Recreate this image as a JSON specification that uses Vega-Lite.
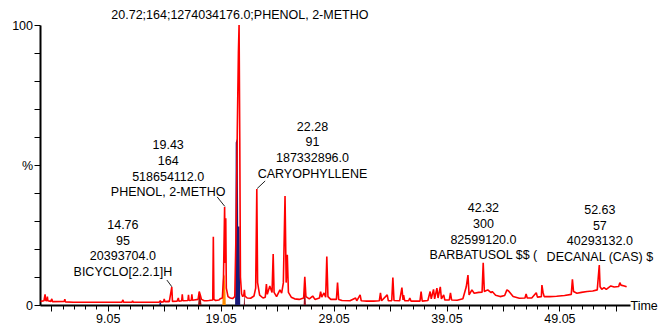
{
  "$schema": "https://vega.github.io/schema/vega-lite/v6.json",
  "autosize": "none",
  "padding": {"left": 40, "top": 25, "right": 29, "bottom": 20},
  "width": 590,
  "height": 280,
  "background": "white",
  "config": {"view": {"stroke": null}, "font": "Liberation Sans"},
  "datasets": {
    "chrom": [
      {"t": 3.1, "v": 1.3}, {"t": 3.4, "v": 1.5}, {"t": 3.5, "v": 3.8}, {"t": 3.55, "v": 1.6}, {"t": 3.65, "v": 1.5}, {"t": 3.7, "v": 3.0}, {"t": 3.75, "v": 1.5},
      {"t": 4.0, "v": 1.3}, {"t": 4.1, "v": 2.2}, {"t": 4.15, "v": 1.2}, {"t": 5.2, "v": 1.3}, {"t": 5.25, "v": 2.1}, {"t": 5.3, "v": 1.1},
      {"t": 6.0, "v": 1.0}, {"t": 8.0, "v": 1.0}, {"t": 10.3, "v": 1.0}, {"t": 10.4, "v": 1.8}, {"t": 10.45, "v": 1.0}, {"t": 11.2, "v": 1.0}, {"t": 11.25, "v": 1.5}, {"t": 11.3, "v": 1.0},
      {"t": 13.6, "v": 1.0}, {"t": 13.7, "v": 1.5}, {"t": 13.8, "v": 1.0}, {"t": 14.0, "v": 1.2}, {"t": 14.05, "v": 2.2}, {"t": 14.1, "v": 1.2}, {"t": 14.4, "v": 1.3}, {"t": 14.5, "v": 1.2},
      {"t": 14.72, "v": 6.4}, {"t": 14.78, "v": 1.3}, {"t": 15.2, "v": 1.4}, {"t": 15.3, "v": 2.5}, {"t": 15.35, "v": 1.4}, {"t": 15.6, "v": 1.5}, {"t": 15.65, "v": 3.8}, {"t": 15.7, "v": 1.5},
      {"t": 16.15, "v": 1.6}, {"t": 16.2, "v": 3.6}, {"t": 16.25, "v": 1.6}, {"t": 16.45, "v": 1.7}, {"t": 16.5, "v": 3.8}, {"t": 16.55, "v": 1.7}, {"t": 16.7, "v": 1.8},
      {"t": 17.05, "v": 2.0}, {"t": 17.15, "v": 4.8}, {"t": 17.25, "v": 3.5}, {"t": 17.35, "v": 2.0}, {"t": 17.6, "v": 1.5}, {"t": 17.8, "v": 1.5}, {"t": 18.0, "v": 1.6},
      {"t": 18.35, "v": 1.8}, {"t": 18.4, "v": 24.4}, {"t": 18.45, "v": 2.0}, {"t": 18.6, "v": 1.6}, {"t": 18.9, "v": 1.8}, {"t": 19.0, "v": 2.2}, {"t": 19.2, "v": 2.5},
      {"t": 19.3, "v": 10}, {"t": 19.4, "v": 35.0}, {"t": 19.45, "v": 15}, {"t": 19.5, "v": 31.0}, {"t": 19.55, "v": 6}, {"t": 19.7, "v": 3.0}, {"t": 19.9, "v": 2.5}, {"t": 20.1, "v": 2.3},
      {"t": 20.3, "v": 3.0}, {"t": 20.42, "v": 28}, {"t": 20.52, "v": 62}, {"t": 20.62, "v": 90}, {"t": 20.68, "v": 100}, {"t": 20.74, "v": 60}, {"t": 20.8, "v": 10}, {"t": 20.9, "v": 4},
      {"t": 21.0, "v": 3.0}, {"t": 21.1, "v": 3.5}, {"t": 21.15, "v": 5.4}, {"t": 21.2, "v": 3.2}, {"t": 21.4, "v": 2.5}, {"t": 21.7, "v": 2.4}, {"t": 22.0, "v": 3.2},
      {"t": 22.15, "v": 6.0}, {"t": 22.25, "v": 41.4}, {"t": 22.32, "v": 8.0}, {"t": 22.5, "v": 3.5}, {"t": 22.8, "v": 2.5}, {"t": 23.0, "v": 2.8}, {"t": 23.1, "v": 7.5},
      {"t": 23.18, "v": 3.8}, {"t": 23.4, "v": 6.8}, {"t": 23.6, "v": 4.5}, {"t": 23.7, "v": 18.2}, {"t": 23.78, "v": 4.5}, {"t": 24.0, "v": 3.0}, {"t": 24.3, "v": 5.4},
      {"t": 24.45, "v": 4.2}, {"t": 24.6, "v": 7.9}, {"t": 24.75, "v": 38.9}, {"t": 24.85, "v": 8}, {"t": 24.95, "v": 17.9}, {"t": 25.05, "v": 4.5}, {"t": 25.3, "v": 2.8},
      {"t": 25.6, "v": 2.2}, {"t": 26.0, "v": 2.0}, {"t": 26.4, "v": 2.5}, {"t": 26.5, "v": 10.1}, {"t": 26.6, "v": 3.0}, {"t": 26.9, "v": 2.2}, {"t": 27.2, "v": 3.2},
      {"t": 27.4, "v": 2.0}, {"t": 27.8, "v": 2.5}, {"t": 27.9, "v": 4.8}, {"t": 28.0, "v": 2.8}, {"t": 28.2, "v": 4.3}, {"t": 28.35, "v": 2.8}, {"t": 28.45, "v": 17.3},
      {"t": 28.55, "v": 3.0}, {"t": 28.8, "v": 2.0}, {"t": 29.3, "v": 2.0}, {"t": 29.4, "v": 8.0}, {"t": 29.5, "v": 2.0}, {"t": 29.8, "v": 1.6}, {"t": 30.5, "v": 1.5},
      {"t": 31.0, "v": 2.5}, {"t": 31.1, "v": 1.5}, {"t": 31.4, "v": 3.6}, {"t": 31.5, "v": 1.5}, {"t": 32.0, "v": 1.4}, {"t": 32.6, "v": 1.4}, {"t": 33.1, "v": 1.5},
      {"t": 33.2, "v": 4.3}, {"t": 33.3, "v": 1.5}, {"t": 33.8, "v": 3.6}, {"t": 33.9, "v": 1.5}, {"t": 34.2, "v": 1.5}, {"t": 34.3, "v": 9.8}, {"t": 34.4, "v": 1.6},
      {"t": 34.9, "v": 1.5}, {"t": 35.1, "v": 6.2}, {"t": 35.2, "v": 1.8}, {"t": 35.25, "v": 3.5}, {"t": 35.35, "v": 1.5}, {"t": 35.7, "v": 1.5}, {"t": 35.8, "v": 2.5},
      {"t": 35.9, "v": 1.4}, {"t": 36.7, "v": 1.4}, {"t": 36.8, "v": 4.8}, {"t": 36.9, "v": 1.4}, {"t": 37.4, "v": 1.6}, {"t": 37.6, "v": 4.8}, {"t": 37.7, "v": 2.2},
      {"t": 37.9, "v": 5.6}, {"t": 38.0, "v": 2.2}, {"t": 38.2, "v": 6.0}, {"t": 38.3, "v": 2.5}, {"t": 38.5, "v": 6.5}, {"t": 38.6, "v": 2.2}, {"t": 38.8, "v": 3.6},
      {"t": 38.9, "v": 1.8}, {"t": 39.3, "v": 1.8}, {"t": 39.4, "v": 4.3}, {"t": 39.5, "v": 1.8}, {"t": 40.0, "v": 1.7}, {"t": 40.5, "v": 2.2}, {"t": 40.8, "v": 6.5},
      {"t": 40.95, "v": 10.7}, {"t": 41.05, "v": 3.6}, {"t": 41.3, "v": 5.4}, {"t": 41.5, "v": 4.2}, {"t": 41.9, "v": 4.5}, {"t": 42.2, "v": 4.6}, {"t": 42.3, "v": 15.1},
      {"t": 42.4, "v": 4.8}, {"t": 42.7, "v": 5.4}, {"t": 43.0, "v": 4.4}, {"t": 43.1, "v": 4.8}, {"t": 43.4, "v": 3.5}, {"t": 43.8, "v": 3.0}, {"t": 44.2, "v": 3.4},
      {"t": 44.4, "v": 5.4}, {"t": 44.55, "v": 5.0}, {"t": 44.95, "v": 3.0}, {"t": 45.5, "v": 2.4}, {"t": 46.0, "v": 2.5}, {"t": 46.1, "v": 3.9}, {"t": 46.2, "v": 2.5},
      {"t": 46.6, "v": 2.5}, {"t": 47.0, "v": 4.4}, {"t": 47.1, "v": 2.8}, {"t": 47.45, "v": 3.0}, {"t": 47.5, "v": 7.1}, {"t": 47.6, "v": 4.5}, {"t": 47.7, "v": 3.0},
      {"t": 48.2, "v": 3.0}, {"t": 48.8, "v": 3.1}, {"t": 49.5, "v": 3.4}, {"t": 50.1, "v": 3.8}, {"t": 50.2, "v": 9.2}, {"t": 50.3, "v": 4.8}, {"t": 50.6, "v": 4.2},
      {"t": 51.0, "v": 4.5}, {"t": 51.5, "v": 4.8}, {"t": 52.0, "v": 5.0}, {"t": 52.4, "v": 5.4}, {"t": 52.58, "v": 14.3}, {"t": 52.65, "v": 6.5}, {"t": 52.8, "v": 5.6},
      {"t": 53.0, "v": 6.2}, {"t": 53.2, "v": 5.6}, {"t": 53.6, "v": 6.8}, {"t": 53.9, "v": 6.4}, {"t": 54.3, "v": 6.6}, {"t": 54.4, "v": 8.0}, {"t": 54.5, "v": 7.1},
      {"t": 54.8, "v": 6.8}, {"t": 55.0, "v": 6.5}
    ],
    "fills": [
      {"s": "navy", "t": 13.6, "v": 0}, {"s": "navy", "t": 13.7, "v": 1.5}, {"s": "navy", "t": 13.8, "v": 0},
      {"s": "dark", "t": 17.05, "v": 0}, {"s": "dark", "t": 17.15, "v": 4.8}, {"s": "dark", "t": 17.25, "v": 3.5}, {"s": "dark", "t": 17.35, "v": 0},
      {"s": "orange", "t": 19.2, "v": 0}, {"s": "orange", "t": 19.25, "v": 9}, {"s": "orange", "t": 19.4, "v": 11}, {"s": "orange", "t": 19.48, "v": 4}, {"s": "orange", "t": 19.5, "v": 0},
      {"s": "navy2", "t": 20.33, "v": 0}, {"s": "navy2", "t": 20.38, "v": 58}, {"s": "navy2", "t": 20.56, "v": 60}, {"s": "navy2", "t": 20.6, "v": 28}, {"s": "navy2", "t": 20.72, "v": 28}, {"s": "navy2", "t": 20.78, "v": 0},
      {"s": "dark2", "t": 21.1, "v": 0}, {"s": "dark2", "t": 21.15, "v": 5.4}, {"s": "dark2", "t": 21.2, "v": 0},
      {"s": "dark3", "t": 26.4, "v": 0}, {"s": "dark3", "t": 26.5, "v": 10.1}, {"s": "dark3", "t": 26.6, "v": 0}
    ],
    "leaders": [
      {"t": 14.29, "v": 8.9, "t2": 14.73, "v2": 6.5},
      {"t": 18.74, "v": 38.6, "t2": 19.42, "v2": 35.2},
      {"t": 22.28, "v": 41.6, "t2": 22.99, "v2": 44.3}
    ],
    "labels": [
      {"t": 10.39, "v": 28.6, "label": "14.76\n95\n20393704.0\nBICYCLO[2.2.1]H"},
      {"t": 14.4, "v": 57.1, "label": "19.43\n164\n518654112.0\nPHENOL, 2-METHO"},
      {"t": 27.18, "v": 63.7, "label": "22.28\n91\n187332896.0\nCARYOPHYLLENE"},
      {"t": 42.32, "v": 34.6, "label": "42.32\n300\n82599120.0\nBARBATUSOL $$ ("},
      {"t": 52.63, "v": 33.9, "label": "52.63\n57\n40293132.0\nDECANAL (CAS) $"},
      {"t": 20.75, "v": 103.6, "label": "20.72;164;1274034176.0;PHENOL, 2-METHO"}
    ]
  },
  "encoding": {
    "x": {
      "field": "t", "type": "quantitative",
      "scale": {"domain": [3.05, 55.3], "nice": false, "zero": false},
      "axis": {
        "values": [4.05, 5.05, 6.05, 7.05, 8.05, 9.05, 10.05, 11.05, 12.05, 13.05, 14.05, 15.05, 16.05, 17.05, 18.05, 19.05, 20.05, 21.05, 22.05, 23.05, 24.05, 25.05, 26.05, 27.05, 28.05, 29.05, 30.05, 31.05, 32.05, 33.05, 34.05, 35.05, 36.05, 37.05, 38.05, 39.05, 40.05, 41.05, 42.05, 43.05, 44.05, 45.05, 46.05, 47.05, 48.05, 49.05, 50.05, 51.05, 52.05, 53.05, 54.05],
        "tickSize": {"condition": {"test": "abs(datum.value - 4.05 - 5*round((datum.value - 4.05)/5)) < 0.01", "value": 6}, "value": 4},
        "labelExpr": "abs(datum.value - 9.05 - 10*round((datum.value - 9.05)/10)) < 0.01 ? format(datum.value, '.2f') : ''",
        "labelOverlap": false, "labelFlush": false,
        "labelFont": "Liberation Sans", "labelFontSize": 12.5, "labelColor": "black", "labelPadding": 1,
        "domainColor": "black", "domainWidth": 2, "tickColor": "black", "tickWidth": 1, "grid": false,
        "title": "Time", "titleX": 590, "titleY": 0, "titleAlign": "left", "titleBaseline": "middle", "titleAngle": 0,
        "titleFont": "Liberation Sans", "titleFontSize": 12.5, "titleFontWeight": "normal", "titleColor": "black"
      }
    },
    "y": {
      "field": "v", "type": "quantitative",
      "scale": {"domain": [0, 100], "nice": false},
      "axis": {
        "values": [0, 10, 20, 30, 40, 50, 60, 70, 80, 90, 100],
        "labelExpr": "datum.value == 100 ? '100' : datum.value == 50 ? '%' : datum.value == 0 ? '0' : ''",
        "labelOverlap": false, "labelFlush": false,
        "labelFont": "Liberation Sans", "labelFontSize": 12.5, "labelColor": "black", "labelPadding": 1.5,
        "tickSize": 6, "tickColor": "black", "tickWidth": 1, "domainColor": "black", "domainWidth": 2, "grid": false,
        "title": null
      }
    }
  },
  "layer": [
    {
      "data": {"name": "fills"},
      "mark": {"type": "area", "opacity": 1},
      "encoding": {
        "y": {"field": "v", "type": "quantitative", "stack": null},
        "color": {"field": "s", "type": "nominal", "legend": null,
          "scale": {"domain": ["navy", "dark", "orange", "navy2", "dark2", "dark3"], "range": ["#1b1b78", "#9a1010", "#ff8c00", "#1b1b78", "#8a1020", "#a01020"]}}
      }
    },
    {
      "data": {"name": "chrom"},
      "mark": {"type": "line", "color": "#ff0000", "strokeWidth": 1.6, "strokeJoin": "bevel"}
    },
    {
      "data": {"name": "leaders"},
      "mark": {"type": "rule", "color": "#222222", "strokeWidth": 1},
      "encoding": {"x2": {"field": "t2"}, "y2": {"field": "v2"}}
    },
    {
      "data": {"name": "labels"},
      "mark": {"type": "text", "align": "center", "baseline": "middle", "lineBreak": "\n", "lineHeight": 15.7, "font": "Liberation Sans", "fontSize": 12.5, "color": "black"},
      "encoding": {"text": {"field": "label"}}
    }
  ]
}
